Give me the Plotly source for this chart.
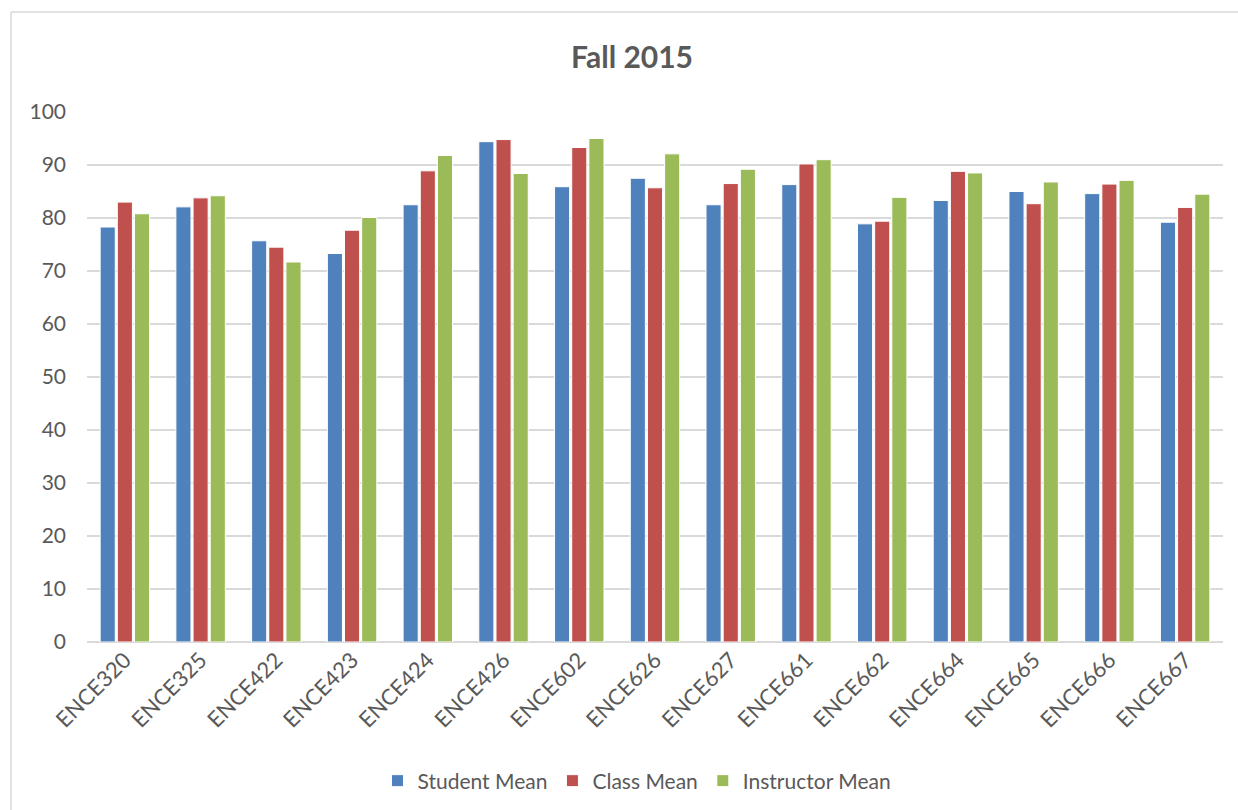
import plotly.graph_objects as go

courses = ["ENCE320", "ENCE325", "ENCE422", "ENCE423", "ENCE424", "ENCE426", "ENCE602",
           "ENCE626", "ENCE627", "ENCE661", "ENCE662", "ENCE664", "ENCE665", "ENCE666", "ENCE667"]
student_mean = [78.3, 82.1, 75.7, 73.3, 82.5, 94.4, 85.9, 87.5, 82.5, 86.3, 78.9, 83.3, 85.0, 84.6, 79.2]
class_mean = [83.0, 83.8, 74.5, 77.7, 88.9, 94.8, 93.3, 85.7, 86.5, 90.2, 79.4, 88.8, 82.7, 86.4, 82.0]
instructor_mean = [80.8, 84.2, 71.7, 80.1, 91.8, 88.4, 95.0, 92.1, 89.2, 91.0, 83.9, 88.5, 86.8, 87.1, 84.5]
y_ticks = [0, 10, 20, 30, 40, 50, 60, 70, 80, 90, 100]

series = [
    ("Student Mean", student_mean, "#4F81BD"),
    ("Class Mean", class_mean, "#C0504D"),
    ("Instructor Mean", instructor_mean, "#9BBB59"),
]

FONT = "Lato"
GREY = "#595959"

fig = go.Figure()
for name, vals, col in series:
    fig.add_trace(go.Bar(
        x=courses, y=vals, name=name,
        marker=dict(color=col, line=dict(color="white", width=1)),
    ))

W, H = 1238, 810
ml, mt = 87, 112
mr = W - 1223
mb = H - 642
pw = W - ml - mr
ph = H - mt - mb

def px_x(p):
    return (p - ml) / pw

def px_y(p):
    return 1 - (p - mt) / ph

border = dict(color="#D9D9D9", width=1.5)

fig.update_layout(
    width=W, height=H,
    margin=dict(l=ml, r=mr, t=mt, b=mb),
    paper_bgcolor="white", plot_bgcolor="white",
    barmode="group", bargap=0.32, bargroupgap=0.12,
    title=dict(text="<b>Fall 2015</b>", x=632 / W, xref="container", xanchor="center",
               y=1 - 57 / H, yanchor="middle", yref="container",
               font=dict(family=FONT, size=30, color=GREY)),
    font=dict(family=FONT, color=GREY),
    legend=dict(orientation="h", x=637 / W, xref="container", xanchor="center",
                y=1 - 781 / H, yref="container", yanchor="middle",
                font=dict(family=FONT, size=21, color=GREY), traceorder="normal"),
    xaxis=dict(tickangle=-45, tickfont=dict(family=FONT, size=22, color=GREY),
               showgrid=False, showline=False, ticks="", automargin=False),
    yaxis=dict(range=[0, 100], tickvals=y_ticks, tickfont=dict(family=FONT, size=21, color=GREY),
               showgrid=True, gridcolor="#D9D9D9", gridwidth=1.5,
               zeroline=True, zerolinecolor="#D9D9D9", zerolinewidth=1.5,
               showline=False, ticks="", ticklabelstandoff=20, automargin=False),
    shapes=[
        dict(type="line", xref="paper", yref="paper",
             x0=px_x(11), x1=px_x(11), y0=px_y(830), y1=px_y(12), line=border, layer="below"),
        dict(type="line", xref="paper", yref="paper",
             x0=px_x(11), x1=px_x(1260), y0=px_y(12), y1=px_y(12), line=border, layer="below"),
    ],
)

fig.write_html("out.html", config={"displayModeBar": False},
               post_script="document.body.style.margin='0';document.body.style.overflow='hidden';")
